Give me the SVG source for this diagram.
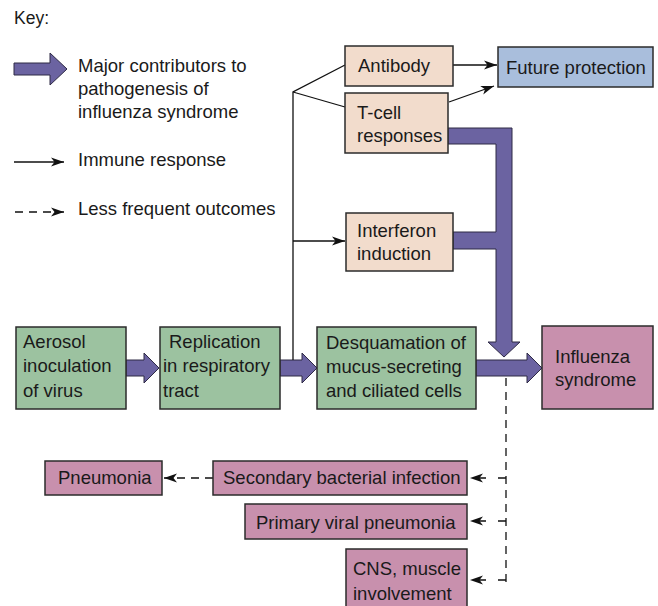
<svg xmlns="http://www.w3.org/2000/svg" width="658" height="606" viewBox="0 0 658 606">
  <defs>
    <marker id="head" markerUnits="userSpaceOnUse" markerWidth="16" markerHeight="12" viewBox="-14 -6 16 12" refX="0" refY="0" orient="auto">
      <path d="M0,0 L-13,-4.5 L-9.5,0 L-13,4.5 Z" fill="#111"/>
    </marker>
  </defs>
  <style>
    text { font-family: "Liberation Sans", Arial, Helvetica, sans-serif; font-size: 18.5px; fill: #1a1a1a; }
    .box { stroke: #2b2b2b; stroke-width: 1.5; }
    .green { fill: #9cc2a0; }
    .pink { fill: #c890ad; }
    .beige { fill: #f2dccc; }
    .blue { fill: #a9bedc; }
    .fat { fill: #6b63a1; stroke: #2e2a45; stroke-width: 1; stroke-linejoin: miter; }
    .thin { fill: none; stroke: #111; stroke-width: 1.3; }
    .dash { fill: none; stroke: #111; stroke-width: 1.3; stroke-dasharray: 8 6; }
    .dash-h { stroke-dasharray: 8 12; }
  </style>

  <!-- Legend -->
  <g id="legend">
    <text x="14" y="24" style="font-size:17.5px">Key:</text>
    <polygon class="fat" points="14,63 50,63 50,53 67,69 50,85 50,75 14,75"/>
    <text x="78" y="72">Major contributors to</text>
    <text x="78" y="95">pathogenesis of</text>
    <text x="78" y="118">influenza syndrome</text>
    <line class="thin" x1="14" y1="162" x2="64" y2="162" marker-end="url(#head)"/>
    <text x="78" y="166">Immune response</text>
    <line class="dash" x1="15" y1="212" x2="64" y2="212" stroke-dasharray="8 9" marker-end="url(#head)"/>
    <text x="78" y="215">Less frequent outcomes</text>
  </g>

  <!-- Connectors -->
  <g id="connectors">
    <!-- pathogenesis arrows -->
    <polygon class="fat" points="126,360 144,360 144,353 159,368 144,383 144,376 126,376"/>
    <polygon class="fat" points="280,360 302,360 302,353 317,368 302,383 302,376 280,376"/>
    <polygon class="fat" points="476,360 527,360 527,353 542,368 527,383 527,376 476,376"/>
    <polygon class="fat" points="448,128 512,128 512,342 520,342 504,357 488,342 496,342 496,249 453,249 453,232 496,232 496,144 448,144"/>
    <!-- immune response -->
    <polyline class="thin" points="293,360 293,92 345,65"/>
    <line class="thin" x1="293" y1="92" x2="345" y2="107"/>
    <line class="thin" x1="293" y1="241" x2="345" y2="241" marker-end="url(#head)"/>
    <line class="thin" x1="453" y1="65" x2="497" y2="65" marker-end="url(#head)"/>
    <line class="thin" x1="449" y1="102" x2="494" y2="86" marker-end="url(#head)"/>
    <!-- less frequent outcomes -->
    <line class="dash" x1="506" y1="378" x2="506" y2="583"/>
    <line class="dash dash-h" x1="506" y1="478" x2="470" y2="478" marker-end="url(#head)"/>
    <line class="dash dash-h" x1="506" y1="521" x2="470" y2="521" marker-end="url(#head)"/>
    <line class="dash dash-h" x1="506" y1="580" x2="470" y2="580" marker-end="url(#head)"/>
    <line class="dash" x1="213" y1="478" x2="164" y2="478" marker-end="url(#head)"/>
  </g>

  <!-- Nodes -->
  <g id="antibody">
    <rect class="box beige" x="345" y="46" width="108" height="40"/>
    <text x="358" y="72">Antibody</text>
  </g>
  <g id="future-protection">
    <rect class="box blue" x="498" y="47" width="155" height="40"/>
    <text x="506" y="74">Future protection</text>
  </g>
  <g id="t-cell">
    <rect class="box beige" x="345" y="93" width="103" height="60"/>
    <text x="357" y="119">T-cell</text>
    <text x="357" y="142">responses</text>
  </g>
  <g id="interferon">
    <rect class="box beige" x="346" y="213" width="107" height="58"/>
    <text x="357" y="237">Interferon</text>
    <text x="357" y="260">induction</text>
  </g>
  <g id="aerosol">
    <rect class="box green" x="16" y="327" width="110" height="82"/>
    <text x="23" y="348">Aerosol</text>
    <text x="23" y="372">inoculation</text>
    <text x="23" y="397">of virus</text>
  </g>
  <g id="replication">
    <rect class="box green" x="160" y="327" width="120" height="82"/>
    <text x="169" y="348">Replication</text>
    <text x="163" y="372">in respiratory</text>
    <text x="163" y="397">tract</text>
  </g>
  <g id="desquamation">
    <rect class="box green" x="317" y="327" width="159" height="82"/>
    <text x="326" y="349">Desquamation of</text>
    <text x="326" y="373">mucus-secreting</text>
    <text x="326" y="397">and ciliated cells</text>
  </g>
  <g id="influenza-syndrome">
    <rect class="box pink" x="542" y="326" width="111" height="83"/>
    <text x="555" y="363">Influenza</text>
    <text x="555" y="386">syndrome</text>
  </g>
  <g id="pneumonia">
    <rect class="box pink" x="45" y="461" width="117" height="34"/>
    <text x="58" y="484">Pneumonia</text>
  </g>
  <g id="secondary-infection">
    <rect class="box pink" x="213" y="461" width="254" height="34"/>
    <text x="223" y="484">Secondary bacterial infection</text>
  </g>
  <g id="viral-pneumonia">
    <rect class="box pink" x="245" y="504" width="222" height="35"/>
    <text x="256" y="529">Primary viral pneumonia</text>
  </g>
  <g id="cns">
    <rect class="box pink" x="346" y="549" width="121" height="60"/>
    <text x="353" y="575">CNS, muscle</text>
    <text x="353" y="600">involvement</text>
  </g>
</svg>
